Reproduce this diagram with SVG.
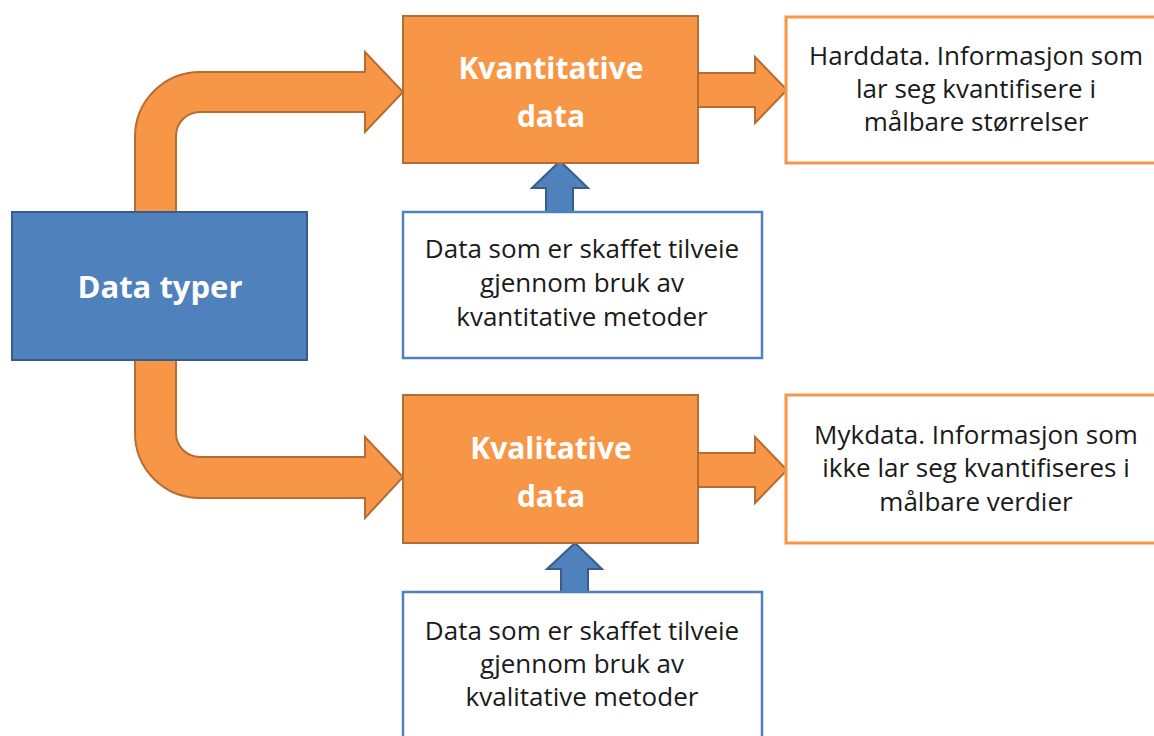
<svg xmlns="http://www.w3.org/2000/svg" width="1154" height="736" viewBox="0 0 1154 736">
  <style>
    .bg { fill: #ffffff; }
    .orange-node { fill: #F79646; stroke: #B66D31; stroke-width: 2; }
    .blue-node { fill: #4F81BD; stroke: #385D8A; stroke-width: 2; }
    .desc-blue { fill: #ffffff; stroke: #4F81BD; stroke-width: 2.5; }
    .desc-orange { fill: #ffffff; stroke: #F79646; stroke-width: 3; }
    .orange-arrow { fill: #F79646; stroke: #B66D31; stroke-width: 2; stroke-linejoin: miter; }
    .blue-arrow { fill: #4F81BD; stroke: #385D8A; stroke-width: 2; }
    .title { font-family: "Open Sans", "Liberation Sans", sans-serif; font-weight: bold; fill: #ffffff; text-anchor: middle; }
    .body { font-family: "Open Sans", "Liberation Sans", sans-serif; font-size: 26px; fill: #1a1a1a; text-anchor: middle; }
  </style>

  <rect class="bg" x="0" y="0" width="1154" height="736"/>

  <g id="connectors">
    <!-- bent arrow up to the quantitative box -->
    <path class="orange-arrow" d="M135,212 L135,137 A65,65 0 0 1 200,72 L365,72 L365,52 L403,92 L365,132 L365,112 L200,112 A24,24 0 0 0 176,136 L176,212 Z"/>
    <!-- bent arrow down to the qualitative box -->
    <path class="orange-arrow" d="M135,360 L135,433 A65,65 0 0 0 200,498 L365,498 L365,518 L403,477 L365,437 L365,457 L200,457 A24,24 0 0 1 176,433 L176,360 Z"/>
    <!-- arrows to the descriptions on the right -->
    <path class="orange-arrow" d="M698,73 L755,73 L755,57 L787,90 L755,123 L755,107 L698,107 Z"/>
    <path class="orange-arrow" d="M698,453 L755,453 L755,437 L787,470 L755,503 L755,487 L698,487 Z"/>
    <!-- upward arrows from the method boxes -->
    <path class="blue-arrow" d="M546,212 L546,188 L532,188 L560,161 L588,188 L573,188 L573,212 Z"/>
    <path class="blue-arrow" d="M561,592 L561,569 L547,569 L575,543 L602,569 L588,569 L588,592 Z"/>
  </g>

  <g id="node-datatyper">
    <rect class="blue-node" x="12" y="212" width="295" height="148"/>
    <text class="title" x="160" y="298" font-size="31">Data typer</text>
  </g>

  <g id="node-kvantitative">
    <rect class="orange-node" x="403" y="16" width="295" height="147"/>
    <text class="title" x="551" y="79" font-size="30">Kvantitative</text>
    <text class="title" x="551" y="127" font-size="30">data</text>
  </g>

  <g id="node-kvalitative">
    <rect class="orange-node" x="403" y="395" width="295" height="148"/>
    <text class="title" x="551" y="459" font-size="30">Kvalitative</text>
    <text class="title" x="551" y="507" font-size="30">data</text>
  </g>

  <g id="node-kvantitative-metoder">
    <rect class="desc-blue" x="403" y="212" width="359" height="146"/>
    <text class="body" x="582" y="258">Data som er skaffet tilveie</text>
    <text class="body" x="582" y="292">gjennom bruk av</text>
    <text class="body" x="582" y="326">kvantitative metoder</text>
  </g>

  <g id="node-kvalitative-metoder">
    <rect class="desc-blue" x="403" y="592" width="359" height="150"/>
    <text class="body" x="582" y="640">Data som er skaffet tilveie</text>
    <text class="body" x="582" y="673">gjennom bruk av</text>
    <text class="body" x="582" y="706">kvalitative metoder</text>
  </g>

  <g id="node-harddata">
    <rect class="desc-orange" x="786" y="17" width="390" height="146"/>
    <text class="body" x="976" y="65">Harddata. Informasjon som</text>
    <text class="body" x="976" y="98">lar seg kvantifisere i</text>
    <text class="body" x="976" y="131">målbare størrelser</text>
  </g>

  <g id="node-mykdata">
    <rect class="desc-orange" x="786" y="395" width="390" height="148"/>
    <text class="body" x="976" y="444">Mykdata. Informasjon som</text>
    <text class="body" x="976" y="477">ikke lar seg kvantifiseres i</text>
    <text class="body" x="976" y="511">målbare verdier</text>
  </g>
</svg>
